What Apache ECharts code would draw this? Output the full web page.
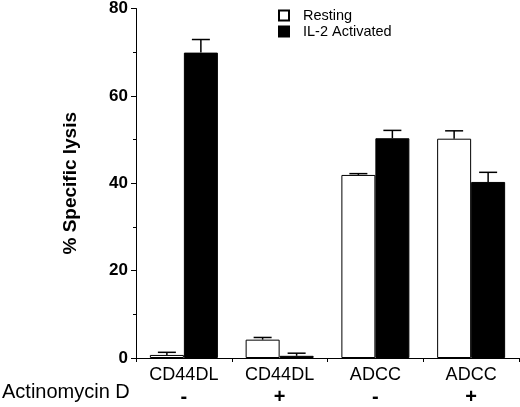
<!DOCTYPE html>
<html>
<head>
<meta charset="utf-8">
<script src="https://cdn.jsdelivr.net/npm/echarts@6/dist/echarts.min.js"></script>
<style>
html,body{margin:0;padding:0;background:#fff;}
#c{width:520px;height:407px;}
</style>
</head>
<body>
<div id="c"></div>
<script>
var categories = ['CD44DL', 'CD44DL', 'ADCC', 'ADCC'];
var actinomycin = ['-', '+', '-', '+'];
var restingValues = [0.7, 4.2, 41.9, 50.2];
var restingErrors = [0.6, 0.5, 0.3, 1.8];
var activatedValues = [69.9, 0.5, 50.3, 40.3];
var activatedErrors = [3.0, 0.6, 1.8, 2.2];
var yTicks = [0, 20, 40, 60, 80];

var FONT = 'Liberation Sans, Arial, Helvetica, sans-serif';
var BAR_W = 34;

function errSeries(name, vals, errs, side) {
  return {
    type: 'custom',
    name: name + ' err',
    z: 5,
    silent: true,
    data: vals.map(function (v, i) { return [i, v, v + errs[i]]; }),
    renderItem: function (params, api) {
      var base = api.coord([api.value(0), api.value(1)]);
      var top = api.coord([api.value(0), api.value(2)]);
      var x = base[0] + side * BAR_W / 2;
      return {
        type: 'group',
        children: [
          { type: 'line', shape: { x1: x, y1: base[1], x2: x, y2: top[1] },
            style: { stroke: '#000', lineWidth: 1.5 } },
          { type: 'line', shape: { x1: x - 9, y1: top[1], x2: x + 9, y2: top[1] },
            style: { stroke: '#000', lineWidth: 1.5 } }
        ]
      };
    }
  };
}

var chart = echarts.init(document.getElementById('c'), null, { renderer: 'canvas' });
chart.setOption({
  animation: false,
  backgroundColor: '#fff',
  textStyle: { fontFamily: FONT, color: '#000' },
  grid: { left: 136, right: 1, top: 6, bottom: 48, containLabel: false },
  legend: {
    orient: 'vertical',
    left: 278,
    top: 8,
    padding: 0,
    itemWidth: 10,
    itemHeight: 10,
    itemGap: 1,
    icon: 'rect',
    data: ['Resting', 'IL-2 Activated'],
    textStyle: { fontFamily: FONT, fontSize: 14.5, color: '#000', padding: [0, 0, 0, 9] }
  },
  xAxis: {
    type: 'category',
    data: categories,
    boundaryGap: true,
    axisLine: { lineStyle: { color: '#000', width: 1 } },
    axisTick: { show: true, length: 4, lineStyle: { color: '#000' } },
    axisLabel: {
      interval: 0,
      margin: 7,
      formatter: function (v, i) {
        return '{n|' + v + '}\n{s|' + actinomycin[i] + '}';
      },
      rich: {
        n: { fontFamily: FONT, fontSize: 18, lineHeight: 20, color: '#000' },
        s: { fontFamily: FONT, fontSize: 20, lineHeight: 24, color: '#000', fontWeight: 'bold' }
      }
    }
  },
  yAxis: {
    type: 'value',
    min: 0,
    max: 80,
    interval: 20,
    name: '% Specific lysis',
    nameLocation: 'middle',
    nameRotate: 90,
    nameGap: 56,
    nameTextStyle: { fontFamily: FONT, fontSize: 19, fontWeight: 'bold', color: '#000' },
    splitLine: { show: false },
    axisLine: { show: true, lineStyle: { color: '#000', width: 1 } },
    axisTick: { show: true, length: 5, lineStyle: { color: '#000' } },
    minorTick: { show: true, splitNumber: 2, length: 3, lineStyle: { color: '#000' } },
    axisLabel: {
      margin: 8,
      fontFamily: FONT,
      fontSize: 17,
      fontWeight: 'bold',
      color: '#000',
      customValues: yTicks
    }
  },
  graphic: [
    { type: 'text', left: 2, top: 382,
      style: { text: 'Actinomycin D', font: '20px ' + FONT, fill: '#000' } }
  ],
  series: [
    { type: 'bar', name: 'Resting', data: restingValues, barWidth: BAR_W, barGap: '0%',
      itemStyle: { color: '#fff', borderColor: '#000', borderWidth: 1 } },
    { type: 'bar', name: 'IL-2 Activated', data: activatedValues, barWidth: BAR_W, barGap: '0%',
      itemStyle: { color: '#000', borderColor: '#000', borderWidth: 1 } },
    errSeries('Resting', restingValues, restingErrors, -1),
    errSeries('IL-2 Activated', activatedValues, activatedErrors, 1)
  ]
});
</script>
</body>
</html>
